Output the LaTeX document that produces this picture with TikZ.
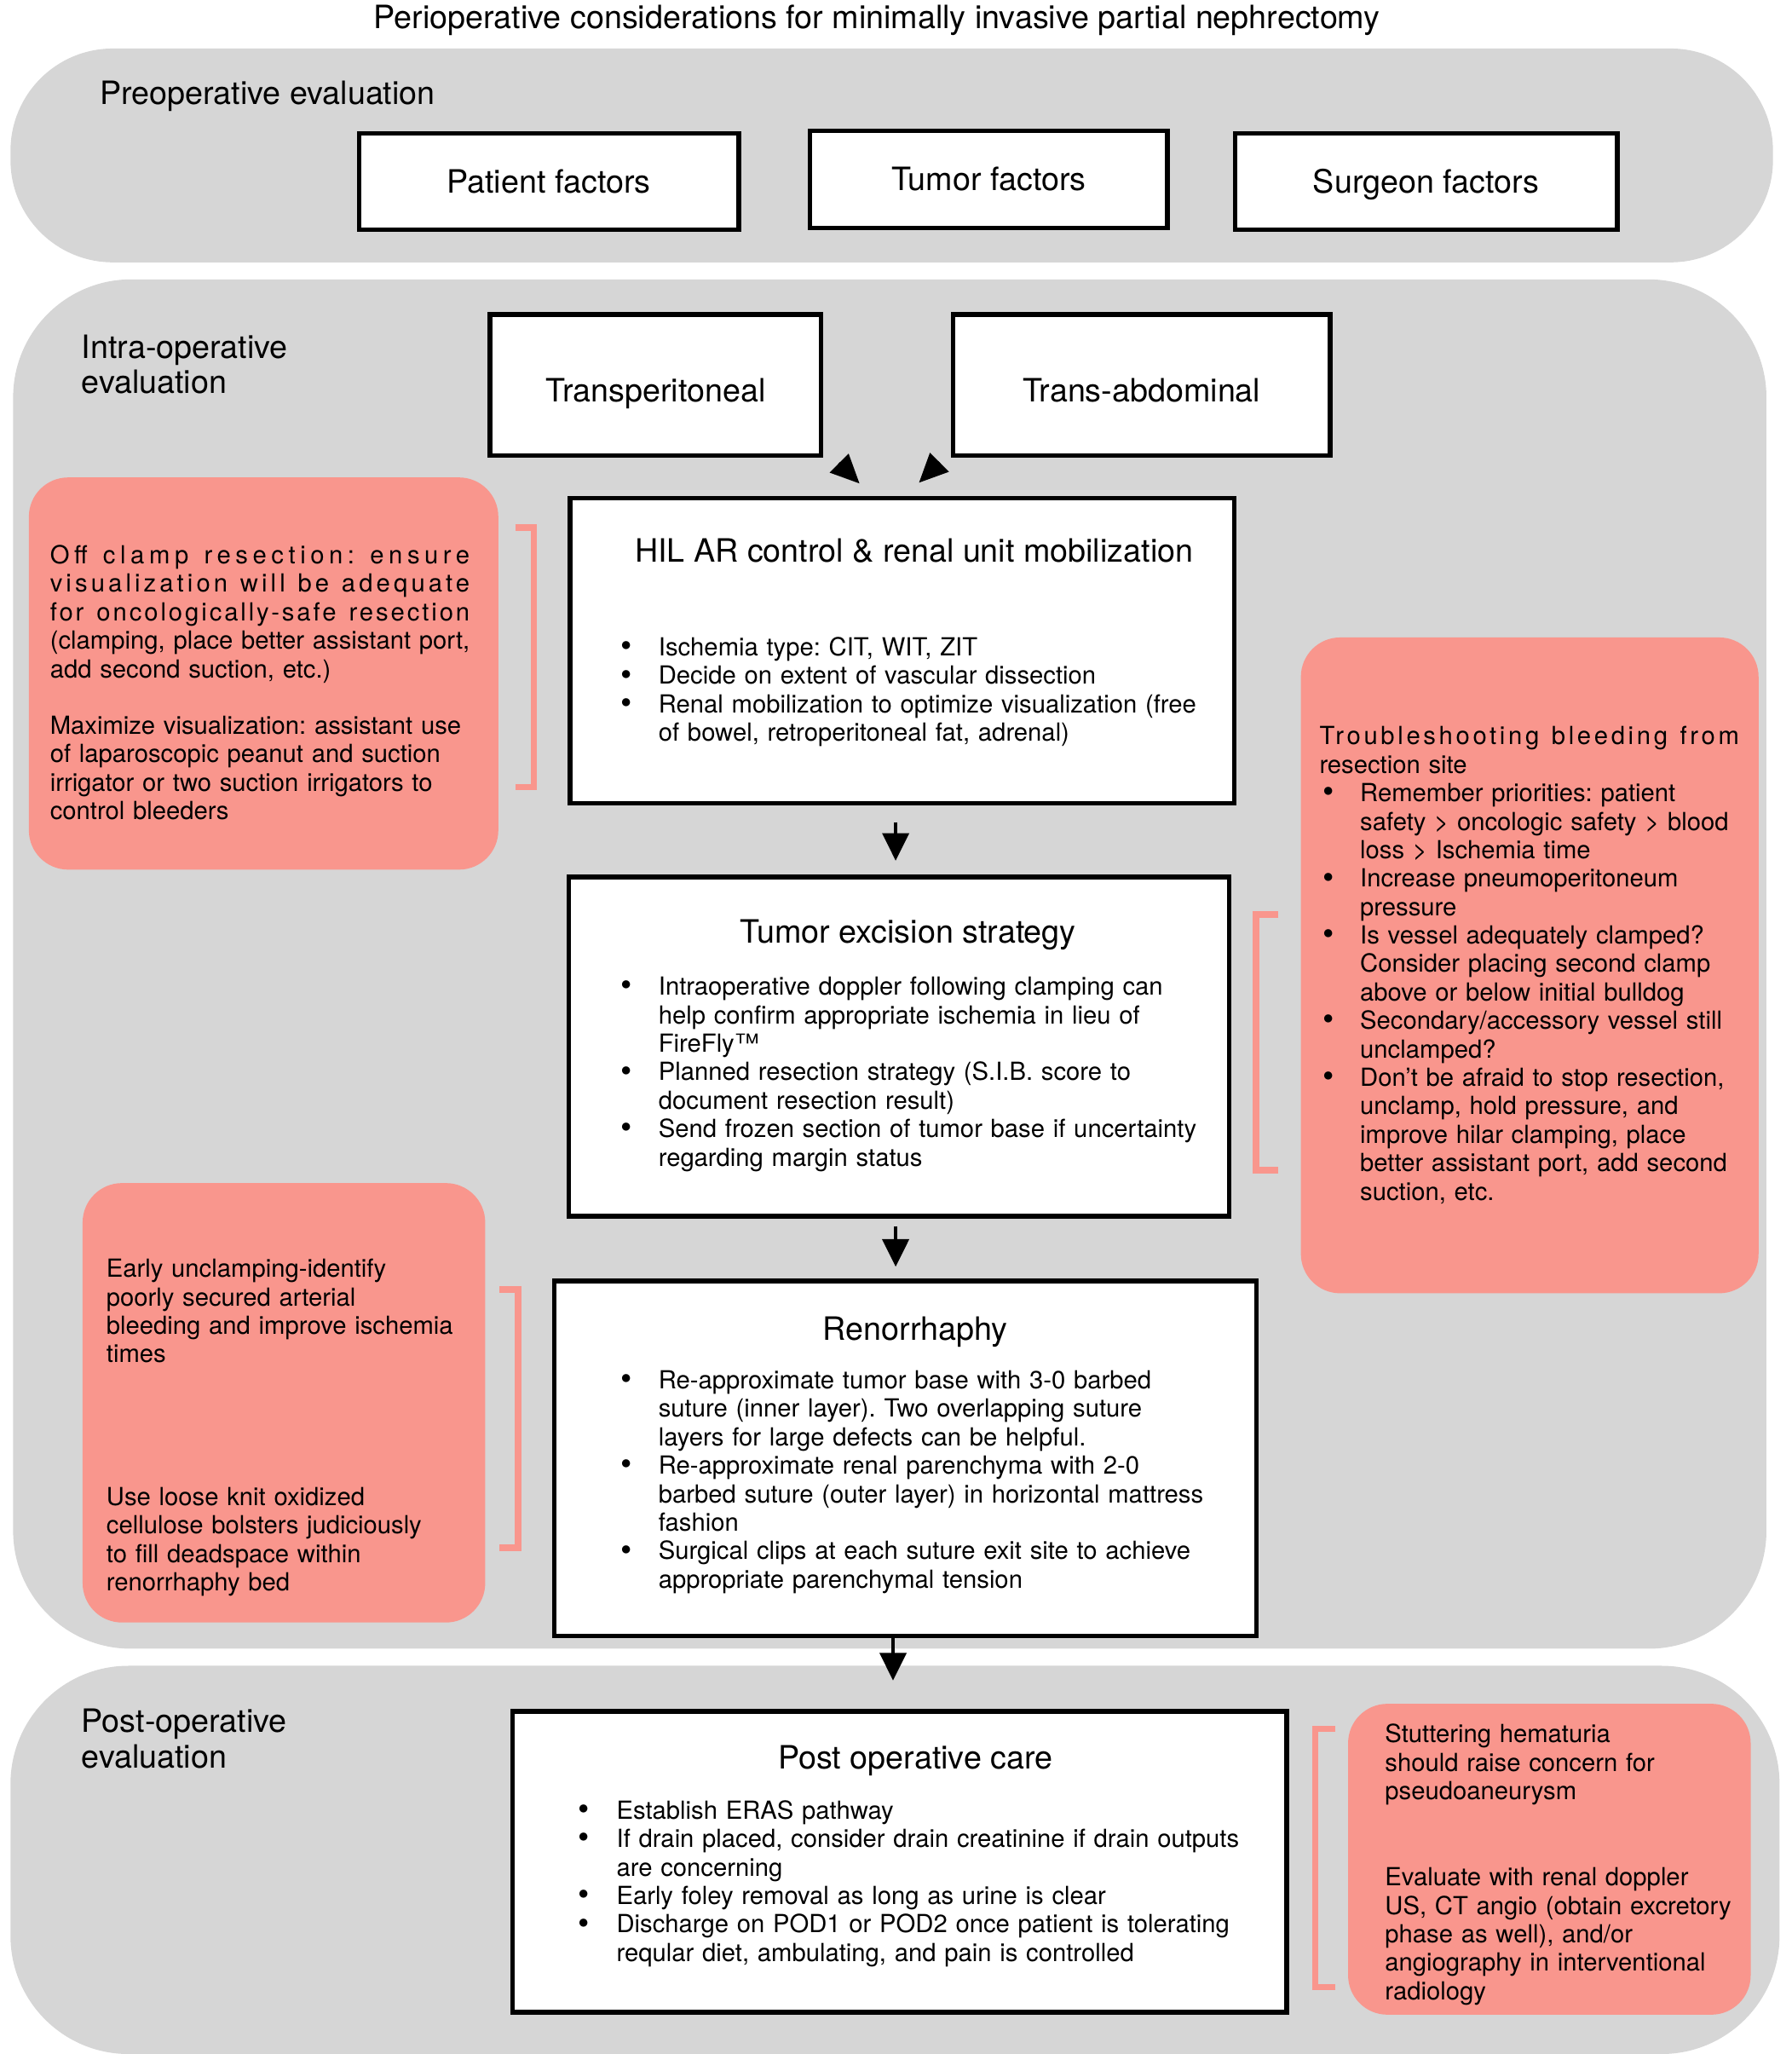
\documentclass[tikz,border=0pt]{standalone}
\usepackage{fontspec}
\usepackage{graphicx}
\setmainfont{TeX Gyre Heros}
\usetikzlibrary{arrows.meta,calc}
\definecolor{regiongray}{RGB}{214,214,214}
\definecolor{salmon}{RGB}{249,150,141}
\newlength\bulw
\setlength\bulw{29pt}
\newlength\bulshift
\setlength\bulshift{0pt}
\newcommand\bi{\noindent\hangindent=\bulw\hangafter=1\strut\makebox[\bulw][l]{\hspace{\bulshift}\raisebox{-0.8pt}{\scalebox{1.3}{•}}}}
\newcommand\bu{\par\bi}
\newcommand\bodyf{\fontsize{19}{21.7}\selectfont\frenchspacing\hyphenpenalty=10000 }
\newcommand\headf{\fontsize{24.5}{27}\selectfont}
\newcommand\lsl[2]{\makebox[320pt][s]{\addfontfeature{LetterSpace=#1}\spaceskip=0.25em plus 1fil\relax #2}}
\newcommand\jl[1]{\makebox[320pt][s]{#1}}
\begin{document}
\begin{tikzpicture}[x=1pt,y=-1pt,
  region/.style={fill=regiongray, draw=none, rounded corners=#1, inner sep=0pt},
  box/.style={draw=black, line width=3.5pt, fill=white, inner sep=0pt, font=\headf, text height=17.6pt, text depth=0pt},
  pinkbox/.style={fill=salmon, draw=none, rounded corners=30pt, inner sep=0pt},
  txt/.style={anchor=north west, inner sep=0pt, text width=#1, align=left, font=\bodyf},
  txt/.default=700pt,
  head/.style={font=\headf, anchor=base, inner sep=0pt},
  brk/.style={draw=salmon, line width=5pt},
  arr/.style={line width=3pt, -{Triangle[length=21pt,width=20pt]}},
  darr/.style={line width=2pt, -{Triangle[length=22pt,width=20pt]}}
]
\path[use as bounding box] (0,0) rectangle (1366,1566);

% regions
\node[region=78pt, minimum width=1344pt, minimum height=163pt] (pre) at (680,118.5) {};
\node[region=90pt, minimum width=1337pt, minimum height=1044pt] (intra) at (678.5,735) {};
\node[region=90pt, minimum width=1349pt, minimum height=296pt] (post) at (682.5,1418) {};

% title and region labels
\node[head] (title) at (668.7,21.6) {Perioperative considerations for minimally invasive partial nephrectomy};
\node[font=\headf, anchor=base west, inner sep=0pt] (prelab) at (76,79.6) {Preoperative evaluation};
\node[txt=250pt, font=\headf] (intralab) at (62,253.9) {\strut Intra-operative\\evaluation};
\node[txt=250pt, font=\headf] (postlab) at (62,1301.9) {\strut Post-operative\\evaluation};

% preoperative boxes
\node[box, minimum width=289.5pt, minimum height=73.5pt] (pf) at (418.5,138.5) {Patient factors};
\node[box, minimum width=272.5pt, minimum height=74pt] (tf) at (754,136.75) {Tumor factors};
\node[box, minimum width=291.5pt, minimum height=73.5pt] (sf) at (1087.5,138.5) {Surgeon factors};

% approach boxes
\node[box, minimum width=252.5pt, minimum height=107.5pt, text height=25.6pt] (tp) at (500,293.5) {Transperitoneal};
\node[box, minimum width=287.5pt, minimum height=107.5pt, text height=25.6pt] (ta) at (870.5,293.5) {Trans-abdominal};

% main step boxes
\node[box, minimum width=506.5pt, minimum height=232.5pt] (hil) at (688,496) {};
\node[box, minimum width=503.5pt, minimum height=258.5pt] (tes) at (685.5,798) {};
\node[box, minimum width=535.5pt, minimum height=270.5pt] (ren) at (690.5,1112) {};
\node[box, minimum width=590.5pt, minimum height=229.5pt] (poc) at (686,1419.5) {};

\node[head] (hilh) at (697,428.8) {HIL AR control \& renal unit mobilization};
\node[head] (tesh) at (692.5,718.8) {Tumor excision strategy};
\node[head] (renh) at (698,1021.8) {Renorrhaphy};
\node[head] (poch) at (698,1348.8) {Post operative care};

\node[txt] (hill) at (473,484.6) {\bi Ischemia type: CIT, WIT, ZIT
\bu Decide on extent of vascular dissection
\bu Renal mobilization to optimize visualization (free\newline of bowel, retroperitoneal fat, adrenal)\par};

\node[txt] (tesl) at (473,743.4) {\bi Intraoperative doppler following clamping can\newline help confirm appropriate ischemia in lieu of\newline FireFly™
\bu Planned resection strategy (S.I.B. score to\newline document resection result)
\bu Send frozen section of tumor base if uncertainty\newline regarding margin status\par};

\node[txt] (renl) at (473,1043.4) {\bi Re-approximate tumor base with 3-0 barbed\newline suture (inner layer). Two overlapping suture\newline layers for large defects can be helpful.
\bu Re-approximate renal parenchyma with 2-0\newline barbed suture (outer layer) in horizontal mattress\newline fashion
\bu Surgical clips at each suture exit site to achieve\newline appropriate parenchymal tension\par};

\node[txt] (pocl) at (441,1371.4) {\bi Establish ERAS pathway
\bu If drain placed, consider drain creatinine if drain outputs\newline are concerning
\bu Early foley removal as long as urine is clear
\bu Discharge on POD1 or POD2 once patient is tolerating\newline reqular diet, ambulating, and pain is controlled\par};

% pink note boxes
\node[pinkbox, minimum width=358pt, minimum height=299pt] (pk1) at (201,513.5) {};
\node[pinkbox, minimum width=349pt, minimum height=500pt] (pk2) at (1166.5,736) {};
\node[pinkbox, minimum width=307pt, minimum height=335pt] (pk3) at (216.5,1069.5) {};
\node[pinkbox, minimum width=307pt, minimum height=237pt] (pk4) at (1181.5,1417.5) {};

\node[txt] (pk1a) at (38,414.4) {\strut\lsl{19}{Off clamp resection: ensure}\\\lsl{14}{visualization will be adequate}\\\lsl{10}{for oncologically-safe resection}\\\jl{(clamping, place better assistant port,}\\add second suction, etc.)};
\node[txt] (pk1b) at (38,544.4) {\strut\jl{Maximize visualization: assistant use}\\\jl{of laparoscopic peanut and suction}\\\jl{irrigator or two suction irrigators to}\\control bleeders};

\node[txt] (pk2t) at (1006,552.4) {\setlength\bulw{31pt}\setlength\bulshift{2.7pt}\strut\lsl{12.5}{Troubleshooting bleeding from}\\resection site
\bu Remember priorities: patient\newline safety > oncologic safety > blood\newline loss > Ischemia time
\bu Increase pneumoperitoneum\newline pressure
\bu Is vessel adequately clamped?\newline Consider placing second clamp\newline above or below initial bulldog
\bu Secondary/accessory vessel still\newline unclamped?
\bu Don’t be afraid to stop resection,\newline unclamp, hold pressure, and\newline improve hilar clamping, place\newline better assistant port, add second\newline suction, etc.\par};

\node[txt] (pk3a) at (81,958.4) {\strut Early unclamping-identify\\poorly secured arterial\\bleeding and improve ischemia\\times};
\node[txt] (pk3b) at (81,1132.4) {\strut Use loose knit oxidized\\cellulose bolsters judiciously\\to fill deadspace within\\renorrhaphy bed};

\node[txt] (pk4a) at (1056,1313.4) {\strut Stuttering hematuria\\should raise concern for\\pseudoaneurysm};
\node[txt] (pk4b) at (1056,1422.4) {\strut Evaluate with renal doppler\\US, CT angio (obtain excretory\\phase as well), and/or\\angiography in interventional\\radiology};

% brackets
\draw[brk] (393,402) -- (407,402) -- (407,600) -- (393,600);
\draw[brk] (975,697) -- (958,697) -- (958,892) -- (975,892);
\draw[brk] (381,983) -- (395,983) -- (395,1180) -- (381,1180);
\draw[brk] (1018,1318) -- (1003,1318) -- (1003,1515) -- (1018,1515);

% arrows
\coordinate (ax) at (683,0);
\coordinate (bx) at (681,0);
\draw[arr, shorten <=12.75pt, shorten >=10.75pt] (hil.south -| ax) -- (tes.north -| ax);
\draw[arr, shorten <=5.75pt, shorten >=9.25pt] (tes.south -| ax) -- (ren.north -| ax);
\draw[arr, shorten >=21.75pt] (ren.south -| bx) -- (poc.north -| bx);

\coordinate (d1s) at (639.8,353);
\coordinate (d1e) at (655.4,368.6);
\coordinate (d2s) at (716.4,352.4);
\coordinate (d2e) at (700.8,368);
\draw[darr] (d1s) -- (d1e);
\draw[darr] (d2s) -- (d2e);
\end{tikzpicture}
\end{document}
